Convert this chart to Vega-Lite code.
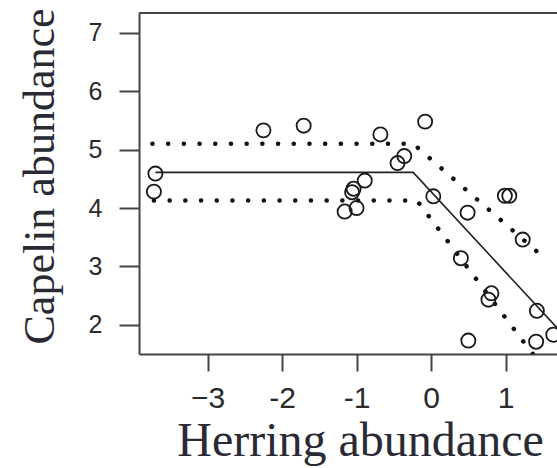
{
  "$schema": "https://vega.github.io/schema/vega-lite/v6.json",
  "autosize": "none",
  "padding": {"left": 139, "top": 13, "right": 0, "bottom": 114},
  "width": 418,
  "height": 341,
  "background": "white",
  "config": {"view": {"stroke": null}},
  "datasets": {
    "points": [
      {"herring": -3.70, "capelin": 4.59},
      {"herring": -3.72, "capelin": 4.28},
      {"herring": -2.25, "capelin": 5.33},
      {"herring": -1.71, "capelin": 5.41},
      {"herring": -0.68, "capelin": 5.26},
      {"herring": -0.08, "capelin": 5.48},
      {"herring": -0.45, "capelin": 4.77},
      {"herring": -0.36, "capelin": 4.89},
      {"herring": -0.89, "capelin": 4.47},
      {"herring": -1.04, "capelin": 4.33},
      {"herring": -1.06, "capelin": 4.27},
      {"herring": -1.00, "capelin": 4.00},
      {"herring": -1.16, "capelin": 3.94},
      {"herring": 0.03, "capelin": 4.20},
      {"herring": 0.49, "capelin": 3.92},
      {"herring": 0.99, "capelin": 4.21},
      {"herring": 1.05, "capelin": 4.21},
      {"herring": 1.23, "capelin": 3.46},
      {"herring": 0.40, "capelin": 3.14},
      {"herring": 0.81, "capelin": 2.54},
      {"herring": 0.77, "capelin": 2.43},
      {"herring": 1.42, "capelin": 2.24},
      {"herring": 0.50, "capelin": 1.73},
      {"herring": 1.41, "capelin": 1.71},
      {"herring": 1.64, "capelin": 1.83}
    ],
    "fit": [
      {"herring": -3.70, "capelin": 4.61, "series": "fit"},
      {"herring": -0.24, "capelin": 4.61, "series": "fit"},
      {"herring": 1.90, "capelin": 1.66, "series": "fit"}
    ],
    "bands": [
      {"herring": -3.74, "capelin": 5.10, "series": "upper"},
      {"herring": -0.24, "capelin": 5.10, "series": "upper"},
      {"herring": 1.47, "capelin": 3.20, "series": "upper"},
      {"herring": -3.72, "capelin": 4.13, "series": "lower"},
      {"herring": -0.19, "capelin": 4.13, "series": "lower"},
      {"herring": 1.40, "capelin": 1.44, "series": "lower"}
    ]
  },
  "layer": [
    {
      "data": {"name": "bands"},
      "mark": {"type": "line", "color": "#111", "strokeWidth": 4.5, "strokeDash": [0.1, 15.6], "strokeCap": "round", "clip": true},
      "encoding": {
        "x": {
          "field": "herring", "type": "quantitative",
          "scale": {"domain": [-3.92, 1.69], "nice": false, "zero": false},
          "axis": {
            "values": [-3, -2, -1, 0, 1],
            "labelExpr": "datum.value == -3 ? '\u22123' : (datum.value < 0 ? '-' + abs(datum.value) : '' + datum.value)",
            "grid": false,
            "domain": true, "domainColor": "#444", "domainWidth": 2,
            "tickColor": "#444", "tickWidth": 2, "tickSize": 17,
            "labelFont": "Liberation Sans", "labelFontSize": 30, "labelColor": "#2a2a2a",
            "labelPadding": 12, "labelFlush": false, "labelOverlap": false,
            "title": "Herring abundance",
            "titleFont": "Liberation Serif", "titleFontSize": 48, "titleFontWeight": "normal",
            "titleColor": "#2a2a35",
            "titleBaseline": "alphabetic", "titleAnchor": "middle",
            "titleX": 221, "titleY": 101
          }
        },
        "y": {
          "field": "capelin", "type": "quantitative",
          "scale": {"domain": [1.5, 7.34], "nice": false, "zero": false},
          "axis": {
            "values": [2, 3, 4, 5, 6, 7],
            "labelExpr": "'' + datum.value",
            "grid": false,
            "domain": true, "domainColor": "#444", "domainWidth": 2,
            "tickColor": "#444", "tickWidth": 2, "tickSize": 20,
            "labelFont": "Liberation Sans", "labelFontSize": 25, "labelColor": "#2a2a2a",
            "labelPadding": 17, "labelFlush": false, "labelOverlap": false,
            "title": "Capelin abundance",
            "titleFont": "Liberation Serif", "titleFontSize": 44, "titleFontWeight": "normal",
            "titleColor": "#2a2a35",
            "titleAngle": -90, "titleBaseline": "alphabetic", "titleAlign": "center",
            "titleX": -86, "titleY": 163
          }
        },
        "detail": {"field": "series"}
      }
    },
    {
      "data": {"name": "fit"},
      "mark": {"type": "line", "color": "#222", "strokeWidth": 1.6, "clip": true},
      "encoding": {
        "x": {"field": "herring", "type": "quantitative"},
        "y": {"field": "capelin", "type": "quantitative"},
        "detail": {"field": "series"}
      }
    },
    {
      "data": {"name": "points"},
      "mark": {"type": "point", "shape": "circle", "filled": false, "color": "#1a1a1a", "strokeWidth": 1.8, "size": 200, "opacity": 1, "clip": true},
      "encoding": {
        "x": {"field": "herring", "type": "quantitative"},
        "y": {"field": "capelin", "type": "quantitative"}
      }
    },
    {
      "data": {"values": [{"top": 7.34}]},
      "mark": {"type": "rule", "color": "#444", "strokeWidth": 2},
      "encoding": {
        "y": {"field": "top", "type": "quantitative"}
      }
    }
  ]
}
